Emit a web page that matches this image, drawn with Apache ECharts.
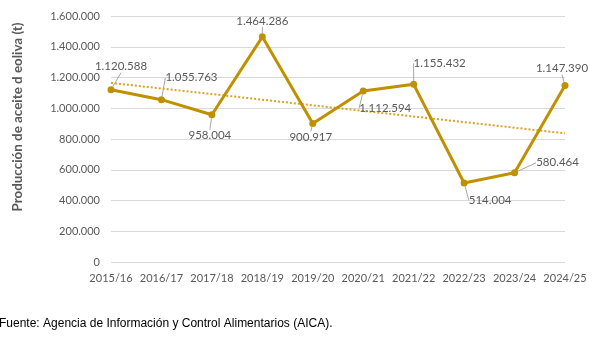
<!DOCTYPE html>
<html>
<head>
<meta charset="utf-8">
<script src="https://cdn.jsdelivr.net/npm/echarts@6/dist/echarts.min.js"></script>
<style>
  html, body { margin: 0; padding: 0; background: #fff; }
  #ec { width: 606px; height: 350px; }
</style>
</head>
<body>
<div id="ec"></div>
<script>
var campanas = ["2015/16", "2016/17", "2017/18", "2018/19", "2019/20", "2020/21", "2021/22", "2022/23", "2023/24", "2024/25"];
var produccion = [1120588, 1055763, 958004, 1464286, 900917, 1112594, 1155432, 514004, 580464, 1147390];
// tendencia lineal (extremos)
var tendencia = [1165000, null, null, null, null, null, null, null, null, 837000];

// desplazamiento de cada etiqueta respecto a su punto
var labelOffsets = [[10, -23], [30, -22], [-2, 21], [0, -16], [-2, 14], [22, 17], [26, -21], [26, 17], [43, -10], [-3, -17]];

function fmt(v) {
  return String(v).replace(/\B(?=(\d{3})+(?!\d))/g, ".");
}

var myChart = echarts.init(document.getElementById("ec"));

myChart.setOption({
  animation: false,
  textStyle: { fontFamily: "Lato" },
  grid: { left: 111, right: 41, top: 16, bottom: 88 },
  xAxis: {
    type: "category",
    data: campanas,
    boundaryGap: false,
    axisLine: { show: false },
    axisTick: { show: false },
    axisLabel: { color: "#595959", fontSize: 11, margin: 11, interval: 0 },
  },
  yAxis: {
    type: "value",
    min: 0,
    max: 1600000,
    interval: 200000,
    axisLabel: { color: "#595959", fontSize: 11, margin: 11, formatter: fmt },
    splitLine: { lineStyle: { color: "#D9D9D9", width: 1 } },
  },
  series: [
    {
      name: "Producción",
      type: "line",
      data: produccion,
      symbol: "circle",
      symbolSize: 7,
      lineStyle: { color: "#BF9000", width: 3 },
      itemStyle: { color: "#BF9000" },
      label: {
        show: true,
        position: "top",
        color: "#595959",
        fontSize: 11.5,
        formatter: function (p) { return fmt(p.value); },
      },
      labelLine: { show: true, lineStyle: { color: "#A6A6A6", width: 1 } },
      labelLayout: function (p) {
        var o = labelOffsets[p.dataIndex];
        var r = p.rect;
        return {
          x: r.x + r.width / 2 + o[0],
          y: r.y + r.height / 2 + o[1],
          align: "center",
          verticalAlign: "middle",
        };
      },
      z: 3,
    },
    {
      name: "Lineal",
      type: "line",
      data: tendencia,
      connectNulls: true,
      symbol: "none",
      lineStyle: { color: "#D9A420", width: 2, type: [2, 2] },
      silent: true,
      z: 2,
    },
  ],
  graphic: [
    {
      // titulo del eje Y
      type: "text",
      x: 18,
      y: 117,
      rotation: Math.PI / 2,
      style: {
        text: "Producción de aceite d eoliva (t)",
        fontFamily: "Lato",
        fontSize: 13.4,
        fontWeight: "bold",
        fill: "#595959",
        align: "center",
        verticalAlign: "middle",
      },
    },
    {
      type: "text",
      left: -1,
      top: 318,
      style: {
        text: "Fuente: Agencia de Información y Control Alimentarios (AICA).",
        fontFamily: "Liberation Sans",
        fontSize: 12,
        fill: "#000",
      },
    },
  ],
});
</script>
</body>
</html>
